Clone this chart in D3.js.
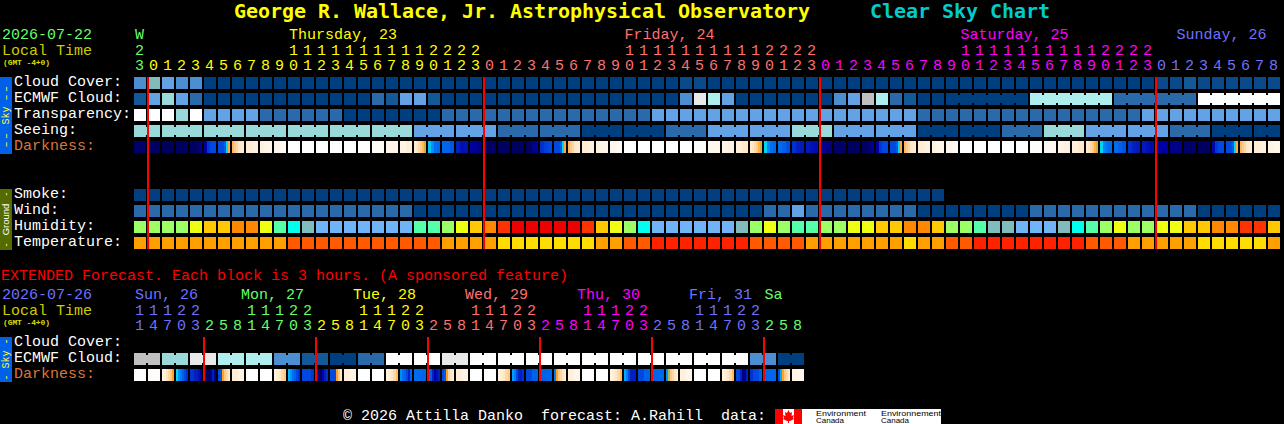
<!DOCTYPE html>
<html>
<head>
<meta charset="utf-8">
<style>
html,body{margin:0;padding:0;background:#000;overflow:hidden}
svg{display:block}
text{font-family:"Liberation Mono",monospace;font-size:15px;white-space:pre}
rect{shape-rendering:crispEdges}
</style>
<script src="https://cdn.jsdelivr.net/npm/d3@7/dist/d3.min.js"></script>
</head>
<body>
<div id="chart"></div>
<script>
// ---------- main forecast data (one value per hour block) ----------
const mainHours = [23,
 0,1,2,3,4,5,6,7,8,9,10,11,12,13,14,15,16,17,18,19,20,21,22,23,
 0,1,2,3,4,5,6,7,8,9,10,11,12,13,14,15,16,17,18,19,20,21,22,23,
 0,1,2,3,4,5,6,7,8,9,10,11,12,13,14,15,16,17,18,19,20,21,22,23,
 0,1,2,3,4,5,6,7,8];
const mainDayLabels = ["W","Thursday, 23","Friday, 24","Saturday, 25","Sunday, 26"];
const mainDayLabelCols = [0,11,34.96,58.96,74.4];
const mainDayStarts = [0,1,25,49,73];
const dayColors = ["#66FF66","#FFFF00","#FF7070","#FF00FF","#7070FF"];

// cloud cover in percent
const cloudCover = [30,50,40,30,30,
 0,0,0,0,0,0,0,0,0,0,0,0,0,0,0,0,0,0,0,0,0,0,0,0,0,0,0,0,0,0,0,0,0,0,
 5,5,
 0,0,0,0,0,0,0,0,0,0,0,0,0,0,0,0,0,0,0,0,0,0,0,0,0,0,0,0,0,0,0,0,
 5,5,10,5,5,5,5,5,5];
const ecmwfCloud = [10,40,60,40,20,
 0,0,0,0,0,0,0,0,0,0,0,0,
 20,10,40,40,10,
 0,0,0,0,0,0,0,0,0,0,0,0,0,0,0,0,0,
 30,90,70,40,
 0,0,0,0,0,0,0,
 30,40,80,70,20,10,0,0,
 0,0,0,0,0,0,
 70,70,70,70,70,70,
 20,20,20,20,20,20,
 100,100,100,100,100,100];
const ecmwfJoined = [[58,63],[64,69],[70,75],[76,81]];
// 0 = best, 4 = worst
const transparency = [4,4,4,3,4,
 2,2,2,2,
 1,1,1,1,1,1,
 0,0,0,0,0,0,0,
 1,1,1,1,1,1,1,1,1,1,1,1,1,1,1,
 2,2,2,2,2,2,2,2,2,2,2,2,2,2,2,2,2,2,2,
 1,1,1,1,1,1,1,1,1,1,1,1,1,1,1,1,
 2,2,2,2,2,2,2,2,2,2];
const seeing = [3,3,3,3,3,3,3,3,3,3,3,3,3,3,3,3,3,3,3,3,
 2,2,2,2,2,2,
 1,1,1,1,1,1,
 0,0,0,0,0,0,
 1,1,1,
 2,2,2,2,2,2,
 3,3,3,
 2,2,2,2,2,2,
 0,0,0,0,0,0,
 1,1,1,
 3,3,3,
 2,2,2,2,2,2,
 1,1,1,
 0,0,0,0,0];
const seeingJoinedLengths = [2,3,3,3,3,3,3,3,3,3,3,3,3,3,3,3,3,3,3,3,3,3,3,3,3,3,3,2];
// Limiting magnitude read across each block, left to right
const darkness = [
 [5.8],[6],[6.1],[6],[6,6,5.8,5],
 [4,2.4,2,2],[2,2,2,1.6,0.2,-0.6],[-0.8,-1.1,-1.5,-2,-2.2,-2.4],[-2.4,-2.6,-2.8],[-2.8,-3,-3.2],[-3.2,-3.5],
 [-4],[-4],[-4],[-4],[-4],[-4],[-3.7],[-3.2,-3],[-3,-2.6],[-2.4,-2,-1.6,-1.2,-0.8,-0.4],
 [0.3,0.8,1.2,1.4],[1.4,1.4,1.7],[3,3.5,3.4],[4.4,4.8],[5.8],[6],[6],[6,6,5,4.4],
 [2.6,2.2,2],[2,2,2,1.6,0.2,-0.6],[-0.8,-1.1,-1.5,-2,-2.2,-2.4],[-2.4,-2.6,-2.8],[-2.8,-3,-3.2],[-3.2,-3.5],
 [-4],[-4],[-4],[-4],[-4],[-3.8],[-3.3],[-3,-2.8],[-2.6,-2.2],[-2.3,-2,-1.6,-1.2,-0.7,-0.4],
 [0.2,0.9,1.2,1.4],[1.3,1.5,1.9],[2.6,3,3.2],[3.2,3.5,3.6],[4.5,5.2],[5.8],[6],[6,6,5.4,5],
 [4,2.4,2,2],[2,2,2,1.6,0.2,-0.6],[-0.8,-1.1,-1.5,-2,-2.2,-2.4],[-2.4,-2.6,-2.8],[-2.8,-3,-3.2],[-3.2,-3.5],
 [-4],[-4],[-4],[-4],[-4],[-3.8],[-3.4],[-3,-2.8],[-2.6,-2.2],[-2.3,-2,-1.6,-1.2,-0.7,-0.4],
 [0.2,0.9,1.2,1.3],[1.3,1.5,1.8],[2.6,3,3.2],[3.2,3.5,3.7],[4,4.2],[5],[5.8],[6],[3.8,2.4,2,2],
 [2,2,2,1.6,0.2,-0.6],[-0.8,-1.1,-1.5,-2,-2.2,-2.4],[-2.4,-2.6,-2.8],[-2.9,-3.1]
];
const smoke = [0,0,0,0,0,0,0,0,0,0,0,0,0,0,0,0,0,0,0,0,0,0,0,0,0,0,0,0,0,
 0,0,0,0,0,0,0,0,0,0,0,0,0,0,0,0,0,0,0,0,0,0,0,0,0,0,0,0,0];
// wind in mph
const wind = [8,8,8,8,8,8,8,8,8,8,8,8,8,8,8,8,8,8,8,8,
 3,3,3,3,3,3,3,3,3,3,3,3,3,3,3,3,3,3,3,3,3,3,3,3,3,
 8,8,14,8,8,8,8,8,8,8,8,
 3,3,3,3,3,3,3,3,
 8,8,8,8,8,8,8,8,8,8,8,8,
 3,3,3,3,3,3];
// relative humidity in percent
const humidity = [72,72,72,72,67,62,62,57,57,67,82,87,92,97,97,97,97,97,97,97,
 82,82,72,67,62,57,52,47,47,47,47,47,52,62,67,72,87,
 97,97,97,97,97,97,92,72,67,72,82,82,72,72,67,67,62,62,57,57,62,
 72,72,82,92,92,97,97,97,92,87,82,72,67,72,72,67,67,62,62,57,57,52,52,62];
// temperature in degrees C
const temperature = [18,18,18,18,18,18,18,18,18,18,18,
 21,21,21,21,21,21,21,21,21,21,21,
 18,18,18,18,
 15,15,15,15,15,15,15,
 18,18,21,21,
 24,24,24,24,24,24,24,
 21,21,21,21,
 18,18,18,18,18,18,18,
 15,18,18,21,21,
 24,24,24,24,24,24,24,24,
 21,21,21,
 18,18,18,18,18,
 15,15,15,15,15,
 18];
const mainMidnights = [1,25,49,73];

// ---------- extended forecast data ----------
const extHours = [11,14,17,20,23,2,5,8,11,14,17,20,23,2,5,8,11,14,17,20,23,2,5,8,
 11,14,17,20,23,2,5,8,11,14,17,20,23,2,5,8,11,14,17,20,23,2,5,8];
const extDayLabels = ["Sun, 26","Mon, 27","Tue, 28","Wed, 29","Thu, 30","Fri, 31","Sa"];
const extDayLabelCols = [0,7.57,15.57,23.57,31.57,39.57,44.96];
const extDayStarts = [0,5,13,21,29,37,45];
const extDayColors = ["#7070FF","#66FF66","#FFFF00","#FF7070","#FF00FF","#7070FF","#66FF66"];
// one value per two joined blocks
const extEcmwf = [80,60,90,70,70,30,10,0,20,100,100,90,
 100,100,100,100,100,100,100,100,100,100,30,0];
const extDarkness = [
 [-4],[-3.8],[-3,-2.6,-2,-1.5,-1,-0.5],[0.2,0.7,1.1,1.5,2,2.6],[2.5,2.6,3,3,3.5,4],[5,6,6,5,3,5],
 [2,1.8,-0.5,-1,-1.5,-2],[-2.5,-3],[-4],[-4],[-3,-2.5,-2,-1.5,-1],[0.4,0.7,1.2,1.5,2,2.6],
 [2,2,2,2.5],[3,5,6,4,3,2.6],[2,2,2,-0.5,-1,-2],[-2.6,-3],[-4],[-4],[-3,-2.5,-2,-1.5,-0.8],[0.8,1.2,1.5,2,3,1.5],
 [1.3,1.4],[1.3,1.6,3,4,3.5,3],[2,1.6,-0.5,-1.5,-2,-2.5],[-2.6,-3],[-4],[-4],[-3,-2.5,-2,-1.5,-1],[0.6,1,2,3,3,2.6],
 [2,1.5],[1.5,1.4],[1,-0.5,-1,-1.5,-2,-2.5],[-2.7,-3.2],[-4],[-4],[-3,-2.5,-2,-1.5,-0.8],[0.5,1,2,3,3,3],
 [2,1.5],[1.4],[0.7,-0.3,-1,-1.5,-2,-2.5],[-2.7,-3.2],[-4],[-4],[-3,-2.5,-2,-1.5,-0.8],[2,2,3,5,5,3],
 [2.5,2,2,1.5],[1.4],[2,0.5,-0.5,-1,-1.5,-2],[-3,-3.3]
];
const extMidnights = [5,13,21,29,37,45];

// ---------- colour scales ----------
const cloudColor = d3.scaleOrdinal()
 .domain([0,5,10,20,30,40,50,60,70,80,90,100])
 .range(["#003F7F","#0B4A8A","#135897","#2A6AAB","#4C8ED2","#63A3E5","#80BCBC","#99D9D9","#AFEEEE","#C0C0C0","#E9E9E9","#FFFFFF"]);
const skyClassColor = d3.scaleOrdinal()
 .domain([0,1,2,3,4])
 .range(["#003F7F","#2A6AAB","#63A3E5","#99D9D9","#FFFFFF"]);
const windColor = d3.scaleOrdinal().domain([3,8,14]).range(["#003F7F","#2A6AAB","#63A3E5"]);
const humidityColor = d3.scaleOrdinal()
 .domain([47,52,57,62,67,72,82,87,92,97])
 .range(["#EE0000","#FF3300","#FF8800","#FFC800","#EEFF11","#9CFF66","#55FFAA","#00FFEE","#80BCBC","#70B4F8"]);
const temperatureColor = d3.scaleOrdinal().domain([15,18,21,24]).range(["#FFDD00","#FFA000","#FF5A00","#FF2200"]);
const darknessColor = d3.scaleLinear()
 .domain([-4,-3,-2,-1,-0.5,0.1,0.6,1.2,2,3,4,5,6])
 .range(["#FFFFFF","#FFF4E6","#FFE6C4","#FFC880","#FFA020","#00E4F0","#009CFF","#0070F0","#0048E0","#0020C0","#0000A8","#000088","#000060"]);

// ---------- layout ----------
const svg = d3.select("#chart").append("svg").attr("width",1284).attr("height",424);
svg.append("rect").attr("width",1284).attr("height",424).attr("fill","#000");

const xMain = d3.scaleBand().domain(d3.range(mainHours.length)).range([134,1280]).paddingInner(2/14).paddingOuter(0);
const xExt  = d3.scaleBand().domain(d3.range(extHours.length)).range([134,804]).paddingInner(2/14).paddingOuter(0);
const labelMain = d3.scaleLinear().domain([0,1]).range([135,149]);
const labelExt  = d3.scaleLinear().domain([0,1]).range([135,149]);
const rowY = d3.scaleOrdinal()
 .domain(["cloud","ecmwf","transparency","seeing","darkness","smoke","wind","humidity","temperature","xcloud","xecmwf","xdarkness"])
 .range([77,93,109,125,141,189,205,221,237,337,353,369]);
const H = 12;

function text(str,x,y,fill,opts={}){
  const t = svg.append("text").attr("x",x).attr("y",y).attr("fill",fill).text(str);
  Object.entries(opts).forEach(([k,v])=>t.style(k,v));
  return t;
}
function row(values,name,color,x){
  svg.append("g").selectAll("rect").data(values).join("rect")
   .attr("x",(d,i)=>x(i)).attr("y",rowY(name)).attr("width",x.bandwidth()).attr("height",H)
   .attr("fill",d=>color(d));
}
function joins(pairs,name,color,values,x){
  const g = svg.append("g");
  pairs.forEach(([a,b])=>{
    d3.range(a,b).forEach(i=>{
      g.append("rect").attr("x",x(i)+x.bandwidth()).attr("y",rowY(name)+2)
       .attr("width",x.step()-x.bandwidth()).attr("height",H-4).attr("fill",color(values[i]));
    });
  });
}
function darkRow(values,name,x){
  const g = svg.append("g");
  values.forEach((cell,i)=>{
    const sub = d3.scaleLinear().domain([0,cell.length]).range([x(i),x(i)+x.bandwidth()]);
    g.selectAll(null).data(cell).join("rect")
     .attr("x",(d,k)=>sub(k)).attr("y",rowY(name))
     .attr("width",x.bandwidth()/cell.length).attr("height",H)
     .attr("fill",d=>darknessColor(d));
  });
}
function hourRows(hours,x,starts,colors,yTens,yOnes){
  hours.forEach((h,i)=>{
    const c = colors[d3.bisectRight(starts,i)-1];
    const cx = x(i)+5.5;
    if(h>=10) text(String(Math.floor(h/10)),cx,yTens,c,{"text-anchor":"middle"});
    text(String(h%10),cx,yOnes,c,{"text-anchor":"middle"});
  });
}
function redLines(cols,x,y0,y1){
  svg.append("g").selectAll("rect").data(cols).join("rect")
   .attr("x",d=>x(d)-1).attr("y",y0).attr("width",2).attr("height",y1-y0).attr("fill","#FF0000");
}
// side bar with a rotated label: parts are [string, font size, font family, letter spacing]
function sideBar(y0,y1,fill,parts,ink,bx){
  svg.append("rect").attr("x",0).attr("y",y0).attr("width",12).attr("height",y1-y0).attr("fill",fill);
  const t = svg.append("text").attr("transform",`translate(${bx},${(y0+y1)/2}) rotate(-90)`)
   .attr("text-anchor","middle").attr("fill",ink);
  parts.forEach(([s,fs,ff,ls])=>t.append("tspan").style("font-size",fs+"px").style("font-family",ff)
    .style("letter-spacing",(ls||0)+"px").text(s));
}

// ---------- title ----------
const titleStyle = {"font-family":"'DejaVu Sans Mono',monospace","font-weight":"bold","font-size":"20px"};
text("George R. Wallace, Jr. Astrophysical Observatory",234,18,"#FFFF00",titleStyle).attr("textLength",576);
text("Clear Sky Chart",870,18,"#00CCCC",titleStyle).attr("textLength",180);

// ---------- main header ----------
text("2026-07-22",2,39,"#66FF66");
text("Local Time",2,55,"#CCCC00");
text("(GMT -4+0)",3,65,"#DDDD00",{"font-size":"8px","font-weight":"bold"}).attr("textLength",47);
mainDayLabels.forEach((s,i)=>text(s,labelMain(mainDayLabelCols[i]),39,dayColors[i]));
hourRows(mainHours,xMain,mainDayStarts,dayColors,55,70);

// ---------- main rows ----------
const mono = "'Liberation Mono',monospace", sans = "'Liberation Sans',sans-serif";
sideBar(77,154,"#0060E8",[["\u2013\u2013",10,mono,2.5],[" Sky ",10,mono,0],["\u2013\u2013",10,mono,2.5]],"#FFFF33",9);
sideBar(189,250,"#556B00",[["-   Ground   -",9.5,sans,0]],"#FFFFFF",8.5);

[["Cloud Cover:",86,"#FFF"],["ECMWF Cloud:",102,"#FFF"],["Transparency:",118,"#FFF"],["Seeing:",134,"#FFF"],
 ["Darkness:",150,"#D9773A"],["Smoke:",198,"#FFF"],["Wind:",214,"#FFF"],["Humidity:",230,"#FFF"],["Temperature:",246,"#FFF"]]
 .forEach(([s,y,c])=>text(s,14,y,c));

row(cloudCover,"cloud",cloudColor,xMain);
row(ecmwfCloud,"ecmwf",cloudColor,xMain);
joins(ecmwfJoined,"ecmwf",cloudColor,ecmwfCloud,xMain);
row(transparency,"transparency",skyClassColor,xMain);
row(seeing,"seeing",skyClassColor,xMain);
let seeingStart = 0;
const seeingPairs = seeingJoinedLengths.map(n=>{const p=[seeingStart,seeingStart+n-1];seeingStart+=n;return p;});
joins(seeingPairs,"seeing",skyClassColor,seeing,xMain);
darkRow(darkness,"darkness",xMain);
row(smoke,"smoke",()=>"#033F7E",xMain);
row(wind,"wind",windColor,xMain);
row(humidity,"humidity",humidityColor,xMain);
row(temperature,"temperature",temperatureColor,xMain);
redLines(mainMidnights,xMain,77,249);

// ---------- extended section ----------
text("EXTENDED Forecast. Each block is 3 hours. (A sponsored feature)",1,280,"#FF0000");
text("2026-07-26",2,299,"#7070FF");
text("Local Time",2,315,"#CCCC00");
text("(GMT -4+0)",3,325,"#DDDD00",{"font-size":"8px","font-weight":"bold"}).attr("textLength",47);
extDayLabels.forEach((s,i)=>text(s,labelExt(extDayLabelCols[i]),299,extDayColors[i]));
hourRows(extHours,xExt,extDayStarts,extDayColors,315,330);

sideBar(337,382,"#0060E8",[["- Sky -",10,mono,0]],"#FFFF33",9);
[["Cloud Cover:",346,"#FFF"],["ECMWF Cloud:",362,"#FFF"],["Darkness:",378,"#D9773A"]]
 .forEach(([s,y,c])=>text(s,14,y,c));

const extEcmwfBlocks = extEcmwf.flatMap(v=>[v,v]);
row(extEcmwfBlocks,"xecmwf",cloudColor,xExt);
joins(extEcmwf.map((v,i)=>[i*2,i*2+1]),"xecmwf",cloudColor,extEcmwfBlocks,xExt);
darkRow(extDarkness,"xdarkness",xExt);
redLines(extMidnights,xExt,337,381);

// ---------- footer ----------
text("\u00A9 2026 Attilla Danko  forecast: A.Rahill  data:",343,420,"#FFFFFF");
svg.append("rect").attr("x",775).attr("y",409).attr("width",166).attr("height",15).attr("fill","#FFF");
svg.append("rect").attr("x",775).attr("y",409).attr("width",8).attr("height",15).attr("fill","#FF0000");
svg.append("rect").attr("x",794).attr("y",409).attr("width",8).attr("height",15).attr("fill","#FF0000");
svg.append("polygon").attr("fill","#FF0000")
 .attr("points","788.5,410 790,413 792,412 791.5,416 794,415 793,418 794,419 790,421 789,421 789,423 788,423 788,421 787,421 783,419 784,418 783,415 785.5,416 785,412 787,413");
const logoStyle = {"font-family":"'Liberation Sans',sans-serif","font-size":"8px"};
text("Environment",816,416,"#000",logoStyle).attr("textLength",50).attr("lengthAdjust","spacingAndGlyphs");
text("Canada",816,423,"#000",logoStyle).attr("textLength",28).attr("lengthAdjust","spacingAndGlyphs");
text("Environnement",881,416,"#000",logoStyle).attr("textLength",60).attr("lengthAdjust","spacingAndGlyphs");
text("Canada",881,423,"#000",logoStyle).attr("textLength",28).attr("lengthAdjust","spacingAndGlyphs");
</script>
</body>
</html>
